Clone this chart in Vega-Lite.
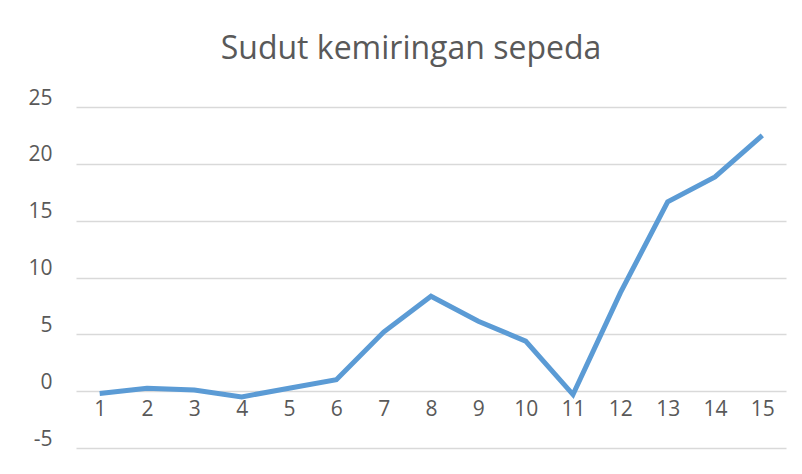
{
  "$schema": "https://vega.github.io/schema/vega-lite/v6.json",
  "width": 710,
  "height": 341,
  "autosize": "none",
  "padding": {"left": 76, "top": 107, "right": 16, "bottom": 26},
  "background": "white",
  "config": {"view": {"stroke": null}},
  "title": {
    "text": "Sudut kemiringan sepeda",
    "font": "Open Sans",
    "fontSize": 32,
    "fontWeight": "normal",
    "color": "#595959",
    "anchor": "middle",
    "frame": "group",
    "offset": 21,
    "dx": -20
  },
  "data": {
    "values": [
      {"x": 1, "y": -0.2},
      {"x": 2, "y": 0.25},
      {"x": 3, "y": 0.1},
      {"x": 4, "y": -0.5},
      {"x": 5, "y": 0.25},
      {"x": 6, "y": 1.0},
      {"x": 7, "y": 5.2},
      {"x": 8, "y": 8.35},
      {"x": 9, "y": 6.15},
      {"x": 10, "y": 4.4},
      {"x": 11, "y": -0.3},
      {"x": 12, "y": 8.65},
      {"x": 13, "y": 16.65},
      {"x": 14, "y": 18.85},
      {"x": 15, "y": 22.5}
    ]
  },
  "mark": {"type": "line", "color": "#5b9bd5", "strokeWidth": 5, "strokeCap": "butt", "strokeJoin": "miter"},
  "encoding": {
    "x": {
      "field": "x",
      "type": "ordinal",
      "sort": null,
      "scale": {"type": "point", "padding": 0.5},
      "axis": {
        "title": null,
        "labelAngle": 0,
        "offset": -56.8,
        "domain": false,
        "ticks": false,
        "grid": false,
        "labelFont": "Open Sans",
        "labelFontSize": 21,
        "labelColor": "#595959",
        "labelPadding": 7
      }
    },
    "y": {
      "field": "y",
      "type": "quantitative",
      "scale": {"domain": [-5, 25], "nice": false, "zero": false},
      "axis": {
        "title": null,
        "values": [-5, 0, 5, 10, 15, 20, 25],
        "labelExpr": "datum.value < 0 ? '-' + abs(datum.value) : datum.label",
        "domain": false,
        "ticks": false,
        "grid": true,
        "gridColor": "#d9d9d9",
        "gridWidth": 1.5,
        "labelFont": "Open Sans",
        "labelFontSize": 21,
        "labelColor": "#595959",
        "labelPadding": 24,
        "labelOffset": -9
      }
    }
  }
}
